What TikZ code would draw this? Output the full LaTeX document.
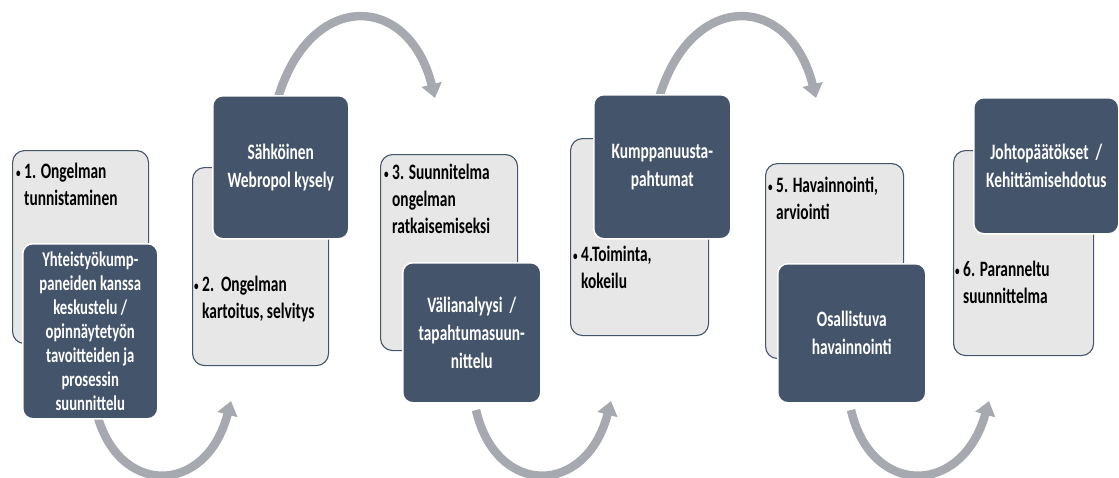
\documentclass[tikz,border=0pt]{standalone}
\usepackage{fontspec}
\newfontfamily\cf[FakeStretch=0.7]{Carlito}
\usetikzlibrary{arrows.meta}
\definecolor{slate}{HTML}{44546A}
\definecolor{paleg}{HTML}{E7E7E7}
\definecolor{arrowg}{HTML}{A7A9B0}
\newcommand{\bul}{\makebox[8pt][l]{\raisebox{1.5pt}{\fontsize{13}{13}\selectfont •}}}
\begin{document}
\begin{tikzpicture}[x=1pt,y=-1pt,
 lightbox/.style={draw=slate, line width=1.1pt, fill=paleg, rounded corners=12pt, anchor=north west, inner sep=0pt},
 darkbox/.style={draw=white, line width=1.5pt, fill=slate, rounded corners=10pt, anchor=north west, inner sep=0pt, text=white, align=center, font=\cf\bfseries\fontsize{22}{28}\selectfont},
 ltext/.style={anchor=north west, inner sep=0pt, align=left, text=black, font=\cf\bfseries\fontsize{22}{27}\selectfont},
 flow/.style={draw=arrowg, line width=8.5pt, -{Triangle[length=14pt,width=20pt]}}
]
\useasboundingbox (0,0) rectangle (1119,477);
% arrows (behind boxes)
\coordinate (a1s) at (96,410);  \coordinate (a1e) at (231,401);
\coordinate (a2s) at (276,105); \coordinate (a2e) at (435,98);
\coordinate (a3s) at (476,410); \coordinate (a3e) at (611,401);
\coordinate (a4s) at (657,105); \coordinate (a4e) at (816,98);
\coordinate (a5s) at (851,410); \coordinate (a5e) at (989,401);
\draw[flow] (a1s) .. controls (116,497) and (206,497) .. (a1e);
\draw[flow] (a2s) .. controls (306,-10) and (408,-10) .. (a2e);
\draw[flow] (a3s) .. controls (496,497) and (586,497) .. (a3e);
\draw[flow] (a4s) .. controls (687,-10) and (789,-10) .. (a4e);
\draw[flow] (a5s) .. controls (871,497) and (962,497) .. (a5e);
% group 1
\node[lightbox, minimum width=136pt, minimum height=193pt] (l1) at (12,150) {};
\node[ltext] (t1) at (16,163) {\bul 1. Ongelman\\\hspace*{8pt}tunnistaminen};
\node[darkbox, minimum width=135pt, minimum height=175pt, font=\cf\bfseries\fontsize{21}{24}\selectfont] (d1) at (22,243) {Yhteistyökump-\\paneiden kanssa\\keskustelu /\\opinnäytetyön\\tavoitteiden ja\\prosessin\\suunnittelu};
% group 2
\node[lightbox, minimum width=136pt, minimum height=198pt] (l2) at (192,167) {};
\node[ltext] (t2) at (194,276) {\bul 2.\ \ Ongelman\\\hspace*{8pt}kartoitus, selvitys};
\node[darkbox, minimum width=136pt, minimum height=143pt] (d2) at (212,95) {Sähköinen\\Webropol kysely};
% group 3
\node[lightbox, minimum width=137pt, minimum height=196pt] (l3) at (380,154) {};
\node[ltext] (t3) at (384,164) {\bul 3. Suunnitelma\\\hspace*{8pt}ongelman\\\hspace*{8pt}ratkaisemiseksi};
\node[darkbox, minimum width=138pt, minimum height=140pt] (d3) at (402,262) {Välianalyysi\ \ /\\tapahtumasuun-\\nittelu};
% group 4
\node[lightbox, minimum width=138pt, minimum height=197pt] (l4) at (570,138) {};
\node[ltext] (t4) at (573,246) {\bul 4.Toiminta,\\\hspace*{8pt}kokeilu};
\node[darkbox, minimum width=137pt, minimum height=144pt] (d4) at (593,94) {Kumppanuusta-\\pahtumat};
% group 5
\node[lightbox, minimum width=138pt, minimum height=195pt] (l5) at (765,163) {};
\node[ltext] (t5) at (768,177) {\bul 5. Havainnointi,\\\hspace*{8pt}arviointi};
\node[darkbox, minimum width=148pt, minimum height=139pt] (d5) at (777,263) {Osallistuva\\havainnointi};
% group 6
\node[lightbox, minimum width=140pt, minimum height=205pt] (l6) at (953,150) {};
\node[ltext] (t6) at (955,261) {\bul 6. Paranneltu\\\hspace*{8pt}suunnittelma};
\node[darkbox, minimum width=145pt, minimum height=136pt] (d6) at (973,97) {Johtopäätökset\ \ /\\Kehittämisehdotus};
\end{tikzpicture}
\end{document}
